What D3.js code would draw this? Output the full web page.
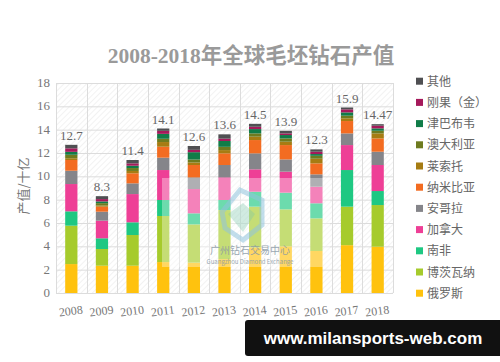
<!DOCTYPE html>
<html>
<head>
<meta charset="utf-8">
<script src="https://cdn.jsdelivr.net/npm/d3@7"></script>
<style>
    body { margin: 0; background: #fff; }
</style>
</head>
<body>
<div id="chart"></div>
<script>
// Data (billion USD)
const years = ["2008", "2009", "2010", "2011", "2012", "2013", "2014", "2015", "2016", "2017", "2018"];
const totalLabels = ["12.7", "8.3", "11.4", "14.1", "12.6", "13.6", "14.5", "13.9", "12.3", "15.9", "14.47"];
const seriesNames = ["俄罗斯", "博茨瓦纳", "南非", "加拿大", "安哥拉", "纳米比亚", "莱索托", "澳大利亚", "津巴布韦", "刚果（金）", "其他"];
const seriesColors = ["#ffc20e", "#a6cb2c", "#1ec882", "#ee3f96", "#85858a", "#f36c21", "#a67c12", "#6e7b1f", "#107c48", "#a5195b", "#4f4f52"];

const russia      = [2.48, 2.34, 2.34, 2.65, 2.60, 2.90, 3.90, 4.00, 3.60, 4.10, 3.97];
const botswana    = [3.29, 1.43, 2.63, 3.95, 3.28, 4.21, 3.50, 3.17, 2.80, 3.30, 3.57];
const southAfrica = [1.23, 0.92, 1.09, 1.37, 0.95, 0.86, 1.28, 1.43, 1.29, 3.14, 1.20];
const canada      = [2.34, 1.51, 2.42, 2.57, 2.08, 1.94, 1.92, 1.80, 1.42, 2.14, 2.23];
const angola      = [1.14, 0.77, 0.92, 1.06, 1.00, 1.06, 1.37, 1.05, 1.06, 1.00, 1.14];
const namibia     = [0.92, 0.43, 0.86, 0.94, 1.06, 1.00, 1.14, 1.23, 0.94, 1.06, 1.14];
const lesotho     = [0.15, 0.10, 0.20, 0.40, 0.22, 0.28, 0.29, 0.29, 0.40, 0.23, 0.43];
const australia   = [0.30, 0.20, 0.25, 0.28, 0.25, 0.28, 0.28, 0.28, 0.25, 0.23, 0.23];
const zimbabwe    = [0.25, 0.15, 0.20, 0.42, 0.63, 0.50, 0.37, 0.29, 0.15, 0.28, 0.20];
const congo       = [0.30, 0.20, 0.20, 0.26, 0.20, 0.20, 0.20, 0.14, 0.20, 0.26, 0.23];
const other       = [0.30, 0.25, 0.29, 0.20, 0.33, 0.37, 0.25, 0.22, 0.20, 0.16, 0.13];

const yTicks = [0, 2, 4, 6, 8, 10, 12, 14, 16, 18];

const seriesValues = [russia, botswana, southAfrica, canada, angola, namibia, lesotho, australia, zimbabwe, congo, other];

// Build table rows for d3.stack
const table = years.map((y, i) => {
    let row = { year: y, label: totalLabels[i] };
    seriesNames.forEach((s, j) => row[s] = seriesValues[j][i]);
    return row;
});

// Dimensions
const width = 500;
const height = 362;
const margin = { left: 56, right: 107, top: 83, bottom: 69 };
const serif = "'Liberation Serif', 'Times New Roman', 'Noto Sans CJK SC', serif";
const sans = "'Noto Sans CJK SC', 'Noto Sans', sans-serif";

const svg = d3.select("#chart")
    .append("svg")
        .attr("width", width)
        .attr("height", height);

const xScale = d3.scaleBand()
    .domain(years)
    .range([margin.left, width - margin.right])
    .paddingInner(0.6)
    .paddingOuter(0.3);

const bandStep = xScale.step();

const yScale = d3.scaleLinear()
    .domain([0, 18])
    .range([height - margin.bottom, margin.top]);

// Hatched plot background
const defs = svg.append("defs");
const pattern = defs.append("pattern")
    .attr("id", "hatch")
    .attr("patternUnits", "userSpaceOnUse")
    .attr("width", 4)
    .attr("height", 4)
    .attr("patternTransform", "rotate(45)");
pattern.append("line")
    .attr("x1", 0).attr("y1", 0)
    .attr("x2", 0).attr("y2", 4)
    .attr("stroke", "#e6e6e6")
    .attr("stroke-width", 1);

const plotLeft = xScale.range()[0];
const plotRight = xScale.range()[1];

svg.append("rect")
    .attr("x", plotLeft)
    .attr("y", yScale(18))
    .attr("width", plotRight - plotLeft)
    .attr("height", yScale(0) - yScale(18))
    .attr("fill", "url(#hatch)");

// Grid lines
const grid = svg.append("g");
grid.selectAll("line.h")
    .data(yTicks)
    .enter()
    .append("line")
        .attr("class", "h")
        .attr("x1", plotLeft)
        .attr("x2", plotRight)
        .attr("y1", d => yScale(d) + 0.5)
        .attr("y2", d => yScale(d) + 0.5)
        .attr("stroke", "#dcdcdc");

const vLines = years.map((y, i) => plotLeft + i * bandStep).concat([plotRight]);
grid.selectAll("line.v")
    .data(vLines)
    .enter()
    .append("line")
        .attr("class", "v")
        .attr("x1", d => Math.round(d) + 0.5)
        .attr("x2", d => Math.round(d) + 0.5)
        .attr("y1", yScale(18))
        .attr("y2", yScale(0))
        .attr("stroke", "#dcdcdc");

// Stacked bars
const stacked = d3.stack().keys(seriesNames)(table);

const color = d3.scaleOrdinal()
    .domain(seriesNames)
    .range(seriesColors);

svg.append("g")
    .selectAll("g")
    .data(stacked)
    .enter()
    .append("g")
        .attr("fill", d => color(d.key))
    .selectAll("rect")
    .data(d => d)
    .enter()
    .append("rect")
        .attr("x", d => xScale(d.data.year))
        .attr("y", d => yScale(d[1]))
        .attr("width", xScale.bandwidth())
        .attr("height", d => yScale(d[0]) - yScale(d[1]));

// Watermark (semi-transparent box with logo and text)
const wm = svg.append("g");
wm.append("rect")
    .attr("x", 162).attr("y", 178)
    .attr("width", 168).attr("height", 89)
    .attr("fill", "#ffffff")
    .attr("opacity", 0.35);
wm.append("path")
    .attr("d", "M222,212 L240,190 L262,200 L262,225 L243,240 L225,228 Z")
    .attr("fill", "none")
    .attr("stroke", "#8fc3dc")
    .attr("stroke-width", 5)
    .attr("opacity", 0.55);
wm.append("path")
    .attr("d", "M228,214 L243,203 L255,214 L243,232 Z")
    .attr("fill", "#7cc7a8")
    .attr("opacity", 0.35);
wm.append("text")
    .attr("x", 250).attr("y", 254)
    .attr("text-anchor", "middle")
    .attr("font-family", sans)
    .attr("font-size", 10)
    .attr("fill", "#8a9aa6")
    .attr("opacity", 0.85)
    .text("广州钻石交易中心");
wm.append("text")
    .attr("x", 250).attr("y", 264)
    .attr("text-anchor", "middle")
    .attr("font-family", sans)
    .attr("font-size", 6)
    .attr("fill", "#8a9aa6")
    .attr("opacity", 0.85)
    .text("Guangzhou Diamond Exchange");

// Total labels above bars
svg.append("g")
    .selectAll("text")
    .data(table)
    .enter()
    .append("text")
        .attr("x", d => xScale(d.year) + xScale.bandwidth() / 2)
        .attr("y", (d, i) => yScale(d3.sum(seriesValues, s => s[i])) - 5)
        .attr("text-anchor", "middle")
        .attr("font-family", serif)
        .attr("font-size", 13)
        .attr("fill", "#666")
        .text(d => d.label);

// Y axis labels
svg.append("g")
    .selectAll("text")
    .data(yTicks)
    .enter()
    .append("text")
        .attr("x", 50)
        .attr("y", d => yScale(d) + 4)
        .attr("text-anchor", "end")
        .attr("font-family", serif)
        .attr("font-size", 13)
        .attr("fill", "#777")
        .text(d => d);

// X axis labels (slightly tilted)
svg.append("g")
    .selectAll("text")
    .data(years)
    .enter()
    .append("text")
        .attr("transform", d => `translate(${xScale(d) + xScale.bandwidth() / 2},${yScale(0) + 22}) rotate(-7)`)
        .attr("text-anchor", "middle")
        .attr("font-family", serif)
        .attr("font-size", 12)
        .attr("fill", "#777")
        .text(d => d);

// Y axis title
svg.append("text")
    .attr("transform", `translate(28,186) rotate(-90)`)
    .attr("text-anchor", "middle")
    .attr("font-family", sans)
    .attr("font-size", 13)
    .attr("fill", "#777")
    .text("产值/十亿");

// Chart title
svg.append("text")
    .attr("x", 251)
    .attr("y", 63)
    .attr("text-anchor", "middle")
    .attr("font-family", serif)
    .attr("font-size", 21.5)
    .attr("font-weight", "bold")
    .attr("fill", "#9a9a9a")
    .text("2008-2018年全球毛坯钻石产值");

// Legend (top entry is 其他)
const legendItems = seriesNames.slice().reverse();
const legend = svg.append("g")
    .selectAll("g")
    .data(legendItems)
    .enter()
    .append("g")
        .attr("transform", (d, i) => `translate(416,${81.7 + i * 21.2})`);
legend.append("rect")
    .attr("x", 0)
    .attr("y", -4)
    .attr("width", 7)
    .attr("height", 7)
    .attr("fill", d => color(d));
legend.append("text")
    .attr("x", 11)
    .attr("y", 4)
    .attr("font-family", sans)
    .attr("font-size", 12)
    .attr("fill", "#666")
    .text(d => d);

// Site banner at bottom right
const banner = svg.append("g");
banner.append("rect")
    .attr("x", 245).attr("y", 320)
    .attr("width", 260).attr("height", 36)
    .attr("rx", 3)
    .attr("fill", "#111");
banner.append("text")
    .attr("x", 373).attr("y", 344)
    .attr("text-anchor", "middle")
    .attr("font-family", "'Liberation Sans', Arial, sans-serif")
    .attr("font-size", 17)
    .attr("font-weight", "bold")
    .attr("fill", "#fff")
    .text("www.milansports-web.com");
</script>
</body>
</html>
